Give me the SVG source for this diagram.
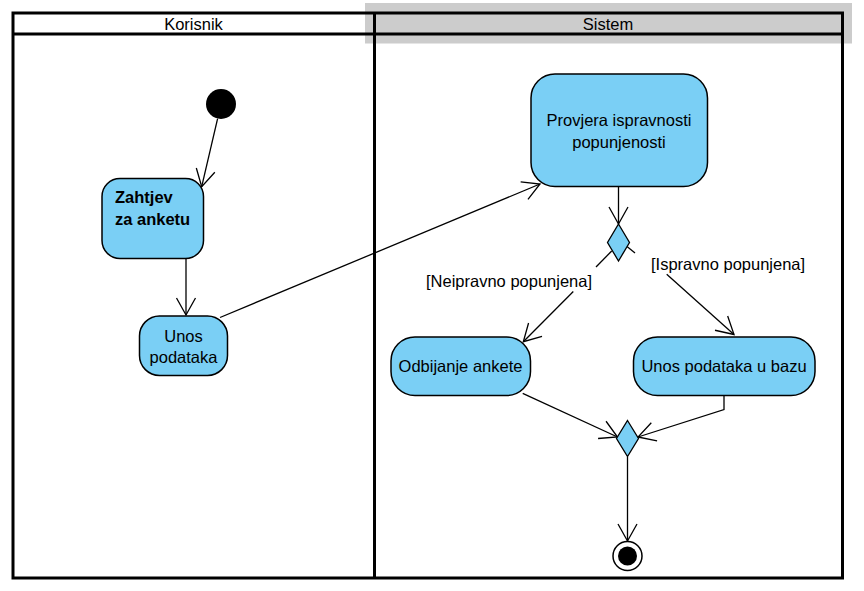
<svg xmlns="http://www.w3.org/2000/svg" width="864" height="591" viewBox="0 0 864 591">
  <style>
    text { font-family: "Liberation Sans", Arial, sans-serif; font-size: 16.5px; fill: #000; }
    .act { fill: #7acff5; stroke: #000; stroke-width: 1.5; }
    .dec { fill: #7acff5; stroke: #000; stroke-width: 1.3; }
    .lane { fill: none; stroke: #000; stroke-width: 3; }
    .conn path { fill: none; stroke: #000; stroke-width: 1.3; }
    .c { text-anchor: middle; }
  </style>
  <defs>
    <marker id="arr" markerUnits="userSpaceOnUse" markerWidth="40" markerHeight="40" viewBox="-20 -20 40 40" refX="0" refY="0" orient="auto" overflow="visible">
      <path d="M-17,-9.5 L0,0 L-17,9.5" fill="none" stroke="#000" stroke-width="1.3"/>
    </marker>
  </defs>
  <rect width="864" height="591" fill="#fff"/>

  <g id="lanes">
    <rect x="365" y="3" width="487" height="40.5" fill="#cccccc"/>
    <rect class="lane" x="13" y="13" width="829.5" height="565"/>
    <line class="lane" x1="13" y1="34" x2="842.5" y2="34"/>
    <line class="lane" x1="374.5" y1="13" x2="374.5" y2="578"/>
    <text class="c" x="193.5" y="29.5">Korisnik</text>
    <text class="c" x="608" y="29.5">Sistem</text>
  </g>

  <g class="conn" id="connectors">
    <path d="M217.6,118.6 L201.7,186.7" marker-end="url(#arr)"/>
    <path d="M186,258.5 L186,315" marker-end="url(#arr)"/>
    <path d="M220,317.5 L540,184" marker-end="url(#arr)"/>
    <path d="M618.5,186.5 L618.5,224" marker-end="url(#arr)"/>
    <path d="M611.7,251 L596,267"/>
    <path d="M573.3,291.5 L523.3,341.7" marker-end="url(#arr)"/>
    <path d="M627,246.5 L635,253"/>
    <path d="M666.7,274.3 L734,334.5" marker-end="url(#arr)"/>
    <path d="M522.7,393.3 L617.5,437" marker-end="url(#arr)"/>
    <path d="M724,396 L724,409.5 L638,437" marker-end="url(#arr)"/>
    <path d="M627.5,457 L627.5,541" marker-end="url(#arr)"/>
    <text x="426" y="287">[Neipravno popunjena]</text>
    <text x="651" y="270">[Ispravno popunjena]</text>
  </g>

  <g id="start">
    <circle cx="221" cy="104" r="15" fill="#000"/>
  </g>

  <g id="zahtjev">
    <rect class="act" x="102" y="178.5" width="101.5" height="80" rx="18" ry="18"/>
    <text x="115" y="203" font-weight="bold">Zahtjev</text>
    <text x="115" y="225" font-weight="bold">za anketu</text>
  </g>

  <g id="unos">
    <rect class="act" x="139.5" y="316" width="88" height="59.5" rx="20" ry="20"/>
    <text class="c" x="183.5" y="341.5">Unos</text>
    <text class="c" x="183.5" y="363">podataka</text>
  </g>

  <g id="provjera">
    <rect class="act" x="531" y="74" width="176.5" height="112.5" rx="24" ry="24"/>
    <text class="c" x="619" y="125.5">Provjera ispravnosti</text>
    <text class="c" x="619" y="147.5">popunjenosti</text>
  </g>

  <g id="decision">
    <polygon class="dec" points="618.5,224 629.5,242.5 618.5,261 607.5,242.5"/>
  </g>

  <g id="odbijanje">
    <rect class="act" x="391" y="337" width="139.5" height="58.5" rx="24" ry="24"/>
    <text class="c" x="460.5" y="372">Odbijanje ankete</text>
  </g>

  <g id="unosBaza">
    <rect class="act" x="633.5" y="337" width="181.5" height="58.5" rx="24" ry="24"/>
    <text class="c" x="724" y="372">Unos podataka u bazu</text>
  </g>

  <g id="merge">
    <polygon class="dec" points="627.5,420.5 638.5,438.5 627.5,456.5 616.5,438.5"/>
  </g>

  <g id="end">
    <circle cx="627.5" cy="556" r="14.5" fill="#fff" stroke="#000" stroke-width="1.5"/>
    <circle cx="627.5" cy="556" r="9.5" fill="#000"/>
  </g>
</svg>
